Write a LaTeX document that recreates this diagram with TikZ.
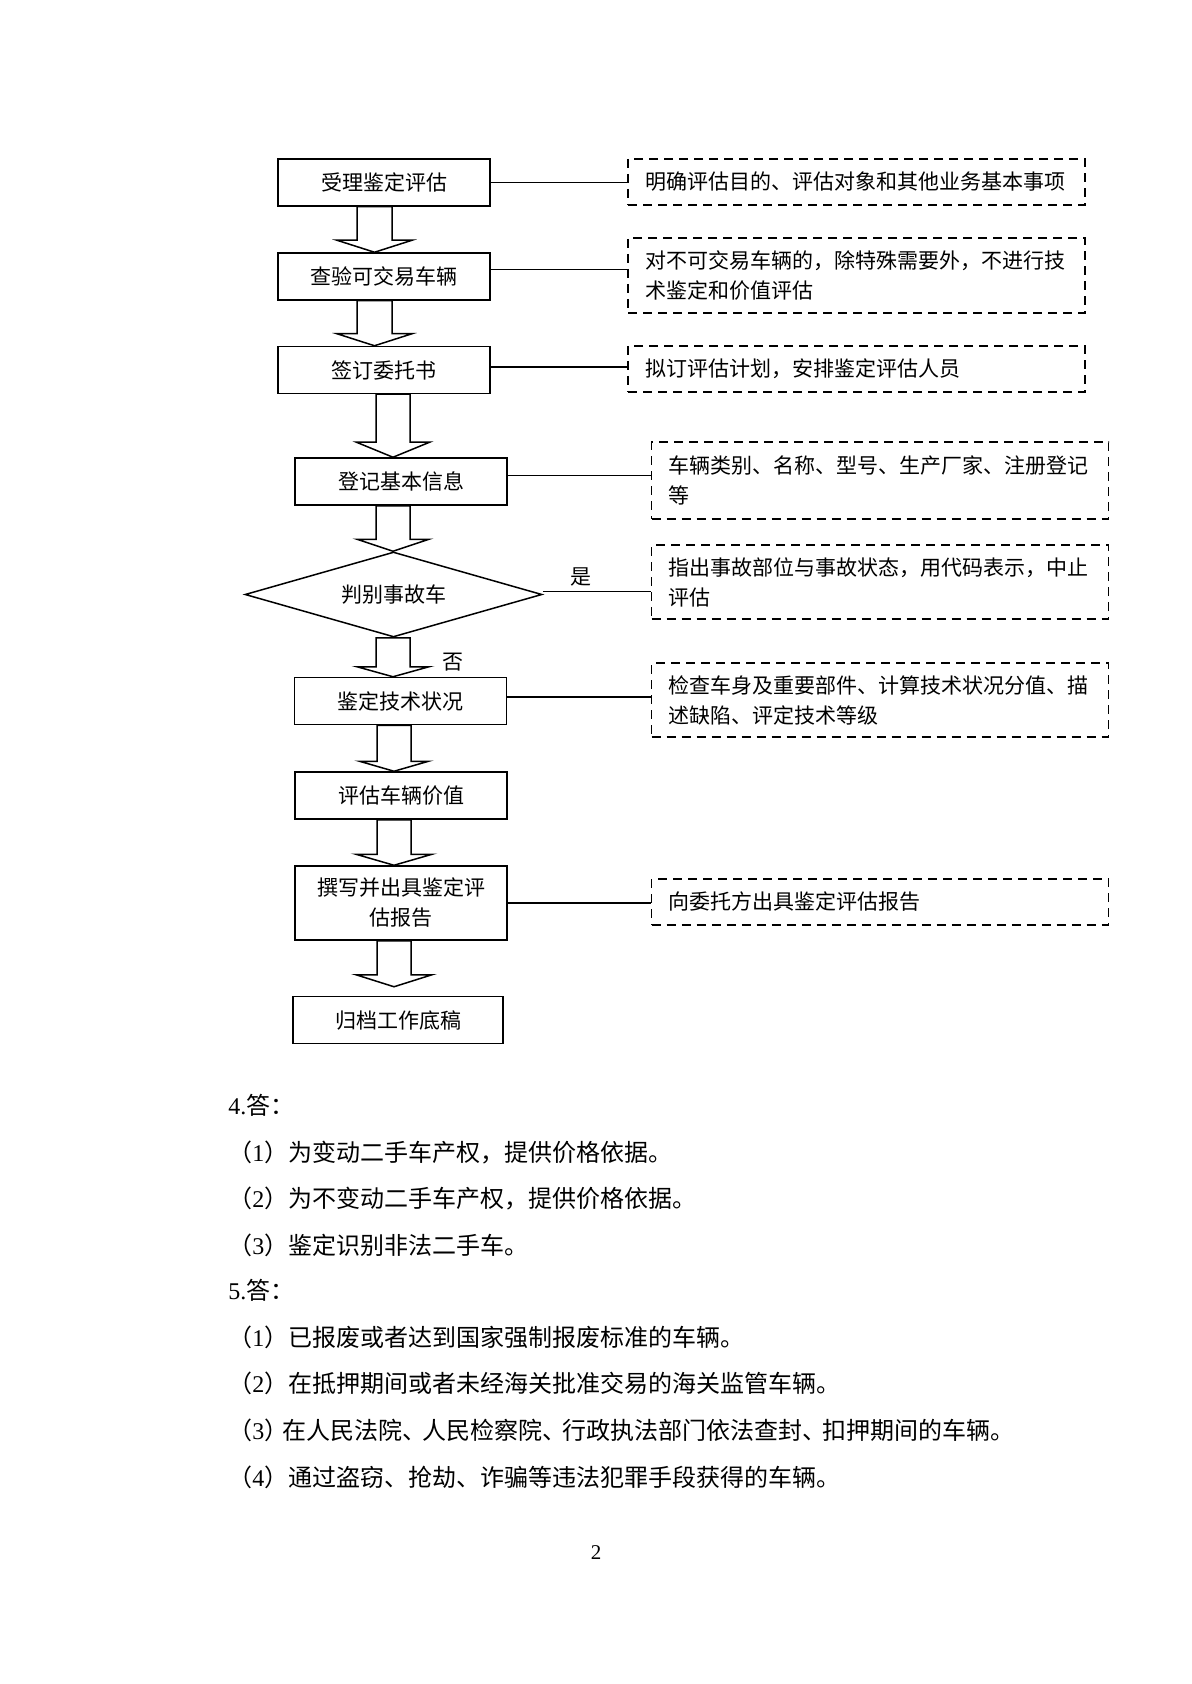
\documentclass[tikz,border=0pt]{standalone}
\usepackage{fontspec}
\setmainfont{Noto Sans CJK SC}
\newfontfamily\serifnum{Liberation Serif}
\usetikzlibrary{shapes.geometric,calc}
\newcommand\fsd{\fontsize{10.5pt}{15pt}\selectfont}
\newcommand\fsb{\fontsize{12pt}{14pt}\selectfont}
\newcommand\tightdun{、\kern-2pt }
\newcommand\blockarr[7]{%
  \draw[blk] ($(#1 |- #2.south)+(-#4,0)$) -- ($(#1 |- #3.north)+(-#4,-#6-#7)$)
    -- ($(#1 |- #3.north)+(-#5,-#6-#7)$) -- ($(#1 |- #3.north)+(0,-#7)$)
    -- ($(#1 |- #3.north)+(#5,-#6-#7)$) -- ($(#1 |- #3.north)+(#4,-#6-#7)$)
    -- ($(#1 |- #2.south)+(#4,0)$) -- cycle;}
\begin{document}
\begin{tikzpicture}[x=0.5pt,y=-0.5pt,
  box/.style={draw, line width=0.75pt, inner sep=0pt, minimum width=106pt,
    minimum height=23.5pt, font=\fsd, align=center},
  note/.style={draw, dash pattern=on 4.5pt off 3pt, line width=0.9pt,
    inner xsep=8.5pt, inner ysep=0pt, text width=211.5pt, align=left, font=\fsd},
  link/.style={line width=0.75pt},
  blk/.style={line width=0.75pt, line join=miter},
  lbl/.style={inner sep=0pt, font=\fsd},
  body/.style={anchor=west, inner sep=0pt, font=\fsb}]
\useasboundingbox (0,0) rectangle (1191,1684);
% main flow
\node[box] (b1) at (384,182.5) {受理鉴定评估};
\node[box] (b2) at (384,276.5) {查验可交易车辆};
\node[box] (b3) at (384,370) {签订委托书};
\node[box] (b4) at (401,481.5) {登记基本信息};
\node[draw, diamond, line width=0.75pt, inner sep=0pt, aspect=3.5,
  minimum width=148.5pt, minimum height=42.5pt, font=\fsd] (dia) at (393.5,594.5) {判别事故车};
\node[box] (b5) at (400.5,701) {鉴定技术状况};
\node[box] (b6) at (401,795.5) {评估车辆价值};
\node[box, minimum height=37pt] (b7) at (401,903) {撰写并出具鉴定评\\估报告};
\node[box, minimum width=105pt] (b8) at (398,1020) {归档工作底稿};
% notes
\node[note, minimum height=23pt] (d1) at (856.5,182) {明确评估目的、评估对象和其他业务基本事项};
\node[note, minimum height=37.5pt] (d2) at (856.5,275.5) {对不可交易车辆的，除特殊需要外，不进行技\\术鉴定和价值评估};
\node[note, minimum height=23pt] (d3) at (856.5,369) {拟订评估计划，安排鉴定评估人员};
\node[note, minimum height=38.5pt] (d4) at (880,480.5) {车辆类别、名称、型号、生产厂家、注册登记\\等};
\node[note, minimum height=37pt] (d5) at (880,582) {指出事故部位与事故状态，用代码表示，中止\\评估};
\node[note, minimum height=37pt] (d6) at (880,700) {检查车身及重要部件、计算技术状况分值、描\\述缺陷、评定技术等级};
\node[note, minimum height=23pt] (d7) at (880,902) {向委托方出具鉴定评估报告};
% links
\draw[link] (b1.east) -- (b1.east -| d1.west);
\draw[link] ($(b2.east)+(0,-7)$) -- ($(b2.east -| d2.west)+(0,-7)$);
\draw[link] ($(b3.east)+(0,-3)$) -- ($(b3.east -| d3.west)+(0,-3)$);
\draw[link] ($(b4.east)+(0,-6)$) -- ($(b4.east -| d4.west)+(0,-6)$);
\draw[link] ($(dia.east)+(0,-3)$) -- ($(dia.east -| d5.west)+(0,-3)$);
\draw[link] ($(b5.east)+(0,-4)$) -- ($(b5.east -| d6.west)+(0,-4)$);
\draw[link] (b7.east) -- (b7.east -| d7.west);
\node[lbl] (yes) at (581,577) {是};
\node[lbl] (no) at (453,662) {否};
% block arrows
\coordinate (axA) at (374.5,0);
\coordinate (axB) at (393,0);
\coordinate (axC) at (394,0);
\blockarr{axA}{b1}{b2}{17.5}{37.5}{12}{0}
\blockarr{axA}{b2}{b3}{17.5}{37.5}{12}{0}
\blockarr{axB}{b3}{b4}{17}{36.5}{15}{0}
\blockarr{axB}{b4}{dia}{17}{36}{12}{0}
\blockarr{axB}{dia}{b5}{17}{36}{10}{0}
\blockarr{axC}{b5}{b6}{17}{34.5}{10}{0}
\blockarr{axC}{b6}{b7}{17}{38}{11}{0}
\blockarr{axC}{b7}{b8}{17}{38}{12}{9}
% answers
\node[body] (t1) at (228,1105) {{\serifnum 4.}答：};
\node[body] (t2) at (228,1152) {（{\serifnum 1}）为变动二手车产权，提供价格依据。};
\node[body] (t3) at (228,1198) {（{\serifnum 2}）为不变动二手车产权，提供价格依据。};
\node[body] (t4) at (228,1245) {（{\serifnum 3}）鉴定识别非法二手车。};
\node[body] (t5) at (228,1290) {{\serifnum 5.}答：};
\node[body] (t6) at (228,1337) {（{\serifnum 1}）已报废或者达到国家强制报废标准的车辆。};
\node[body] (t7) at (228,1383) {（{\serifnum 2}）在抵押期间或者未经海关批准交易的海关监管车辆。};
\node[body] (t8) at (228,1430) {（{\serifnum 3}）\kern-3pt 在人民法院\tightdun 人民检察院\tightdun 行政执法部门依法查封\tightdun 扣押期间的车辆。};
\node[body] (t9) at (228,1477) {（{\serifnum 4}）通过盗窃、抢劫、诈骗等违法犯罪手段获得的车辆。};
\node[inner sep=0pt, font=\fsd\serifnum] (pg) at (596,1553) {2};
\end{tikzpicture}
\end{document}
